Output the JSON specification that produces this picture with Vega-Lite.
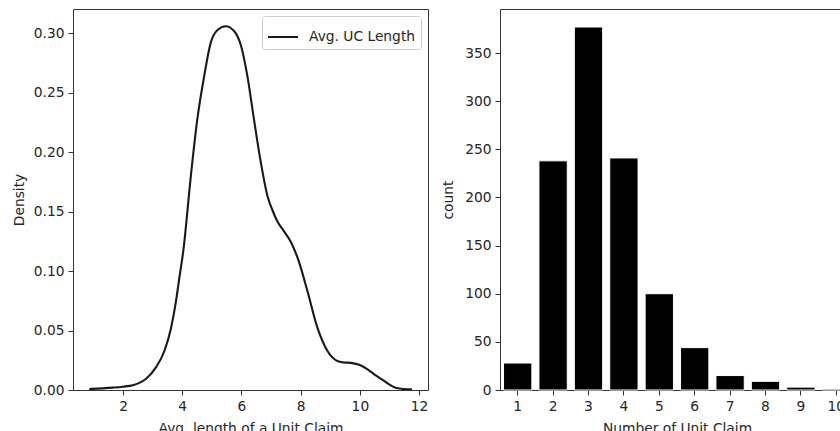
{
  "$schema": "https://vega.github.io/schema/vega-lite/v6.json",
  "autosize": {"type": "pad"},
  "padding": {"left": 11, "top": 8, "right": 0, "bottom": 0},
  "background": "white",
  "spacing": 72,
  "bounds": "flush",
  "resolve": {"scale": {"color": "independent"}, "legend": {"color": "independent"}},
  "config": {
    "font": "DejaVu Sans",
    "view": {"stroke": "#333", "strokeWidth": 1},
    "axis": {
      "labelFont": "DejaVu Sans", "labelFontSize": 13.8, "labelColor": "#262626",
      "titleFont": "DejaVu Sans", "titleFontSize": 13.8, "titleFontWeight": "normal", "titleColor": "#262626",
      "tickColor": "#333", "tickSize": 5, "tickWidth": 1, "labelPadding": 4,
      "domain": false, "grid": false, "titlePadding": 5
    }
  },
  "datasets": {
    "kde": [
      {"x": 0.86, "density": 0.0008, "series": "Avg. UC Length"},
      {"x": 1.3, "density": 0.0014, "series": "Avg. UC Length"},
      {"x": 1.65, "density": 0.002, "series": "Avg. UC Length"},
      {"x": 2.0, "density": 0.0028, "series": "Avg. UC Length"},
      {"x": 2.33, "density": 0.004, "series": "Avg. UC Length"},
      {"x": 2.55, "density": 0.006, "series": "Avg. UC Length"},
      {"x": 2.78, "density": 0.0095, "series": "Avg. UC Length"},
      {"x": 3.11, "density": 0.019, "series": "Avg. UC Length"},
      {"x": 3.4, "density": 0.033, "series": "Avg. UC Length"},
      {"x": 3.62, "density": 0.052, "series": "Avg. UC Length"},
      {"x": 3.79, "density": 0.075, "series": "Avg. UC Length"},
      {"x": 3.9, "density": 0.094, "series": "Avg. UC Length"},
      {"x": 4.04, "density": 0.118, "series": "Avg. UC Length"},
      {"x": 4.29, "density": 0.18, "series": "Avg. UC Length"},
      {"x": 4.51, "density": 0.228, "series": "Avg. UC Length"},
      {"x": 4.74, "density": 0.264, "series": "Avg. UC Length"},
      {"x": 4.96, "density": 0.292, "series": "Avg. UC Length"},
      {"x": 5.2, "density": 0.303, "series": "Avg. UC Length"},
      {"x": 5.47, "density": 0.306, "series": "Avg. UC Length"},
      {"x": 5.75, "density": 0.302, "series": "Avg. UC Length"},
      {"x": 5.98, "density": 0.29, "series": "Avg. UC Length"},
      {"x": 6.2, "density": 0.264, "series": "Avg. UC Length"},
      {"x": 6.42, "density": 0.228, "series": "Avg. UC Length"},
      {"x": 6.65, "density": 0.192, "series": "Avg. UC Length"},
      {"x": 6.88, "density": 0.163, "series": "Avg. UC Length"},
      {"x": 7.05, "density": 0.151, "series": "Avg. UC Length"},
      {"x": 7.21, "density": 0.142, "series": "Avg. UC Length"},
      {"x": 7.45, "density": 0.133, "series": "Avg. UC Length"},
      {"x": 7.66, "density": 0.125, "series": "Avg. UC Length"},
      {"x": 7.94, "density": 0.108, "series": "Avg. UC Length"},
      {"x": 8.23, "density": 0.083, "series": "Avg. UC Length"},
      {"x": 8.57, "density": 0.052, "series": "Avg. UC Length"},
      {"x": 8.9, "density": 0.033, "series": "Avg. UC Length"},
      {"x": 9.24, "density": 0.0244, "series": "Avg. UC Length"},
      {"x": 9.45, "density": 0.0232, "series": "Avg. UC Length"},
      {"x": 9.69, "density": 0.0228, "series": "Avg. UC Length"},
      {"x": 10.0, "density": 0.021, "series": "Avg. UC Length"},
      {"x": 10.26, "density": 0.0174, "series": "Avg. UC Length"},
      {"x": 10.55, "density": 0.012, "series": "Avg. UC Length"},
      {"x": 10.82, "density": 0.0076, "series": "Avg. UC Length"},
      {"x": 11.05, "density": 0.0038, "series": "Avg. UC Length"},
      {"x": 11.27, "density": 0.0014, "series": "Avg. UC Length"},
      {"x": 11.5, "density": 0.0008, "series": "Avg. UC Length"},
      {"x": 11.76, "density": 0.0005, "series": "Avg. UC Length"}
    ],
    "counts": [
      {"n": "1", "count": 28},
      {"n": "2", "count": 238},
      {"n": "3", "count": 377},
      {"n": "4", "count": 241},
      {"n": "5", "count": 100},
      {"n": "6", "count": 44},
      {"n": "7", "count": 15},
      {"n": "8", "count": 9},
      {"n": "9", "count": 3},
      {"n": "10", "count": 1}
    ]
  },
  "hconcat": [
    {
      "width": 355,
      "height": 381,
      "data": {"name": "kde"},
      "mark": {"type": "line", "interpolate": "monotone", "strokeWidth": 2.1, "clip": true},
      "encoding": {
        "x": {
          "field": "x", "type": "quantitative",
          "scale": {"domain": [0.31, 12.3], "nice": false, "zero": false},
          "axis": {"values": [2, 4, 6, 8, 10, 12], "title": "Avg. length of a Unit Claim", "titlePadding": 9}
        },
        "y": {
          "field": "density", "type": "quantitative",
          "scale": {"domain": [0, 0.3205], "nice": false},
          "axis": {"values": [0, 0.05, 0.1, 0.15, 0.2, 0.25, 0.3], "format": ".2f", "title": "Density", "titlePadding": 7}
        },
        "color": {
          "field": "series", "type": "nominal",
          "scale": {"range": ["#1a1a1a"]},
          "legend": {
            "title": null, "orient": "top-right", "offset": 7,
            "symbolType": "stroke", "symbolSize": 900, "symbolStrokeWidth": 2,
            "labelFont": "DejaVu Sans", "labelFontSize": 13.8, "labelColor": "#262626",
            "labelOffset": 10, "padding": 5,
            "strokeColor": "#cccccc", "fillColor": "rgba(255,255,255,0.8)", "cornerRadius": 3
          }
        }
      }
    },
    {
      "width": 354,
      "height": 381,
      "data": {"name": "counts"},
      "mark": {"type": "bar", "color": "black", "stroke": "white", "strokeWidth": 1},
      "encoding": {
        "x": {
          "field": "n", "type": "ordinal", "sort": null,
          "scale": {"paddingInner": 0.2, "paddingOuter": 0.1},
          "axis": {"labelAngle": 0, "title": "Number of Unit Claim", "titlePadding": 9}
        },
        "y": {
          "field": "count", "type": "quantitative",
          "scale": {"domain": [0, 395.7], "nice": false},
          "axis": {"values": [0, 50, 100, 150, 200, 250, 300, 350], "title": "count", "titlePadding": 9}
        }
      }
    }
  ]
}
